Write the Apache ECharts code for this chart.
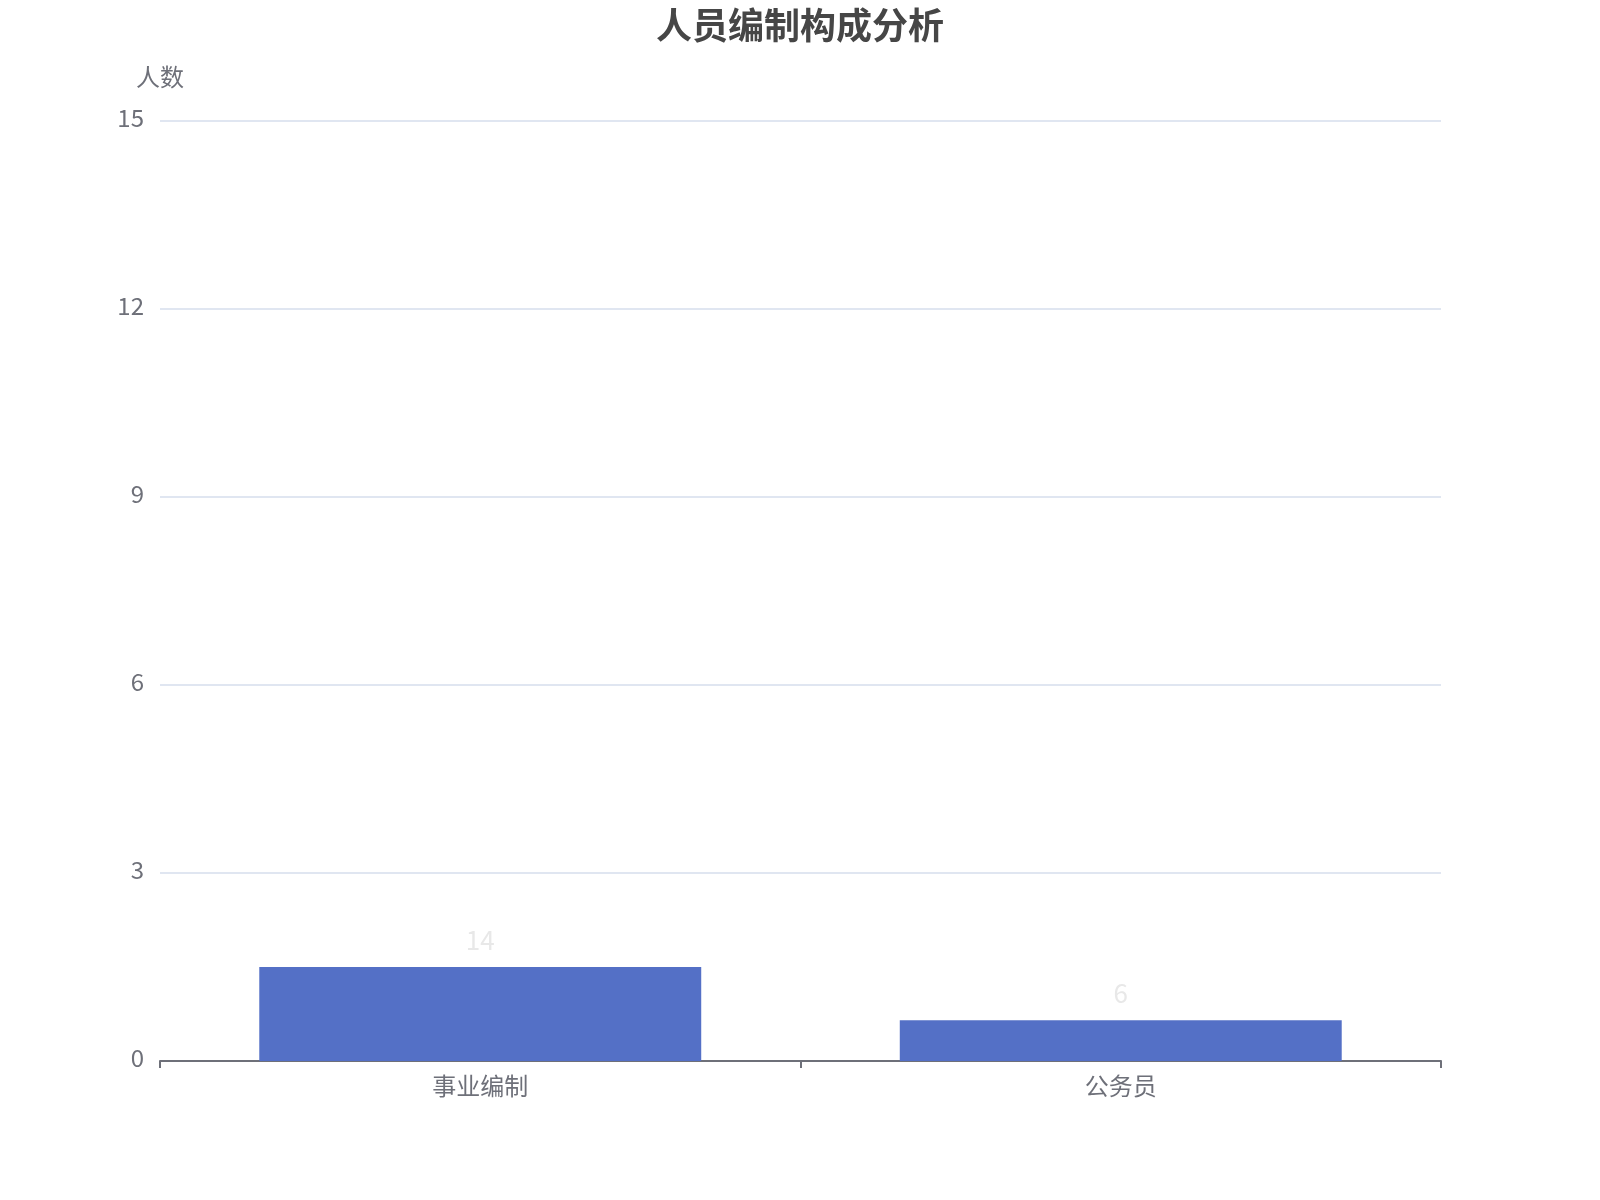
<!DOCTYPE html>
<html>
<head>
<meta charset="utf-8">
<script src="https://cdn.jsdelivr.net/npm/echarts@6/dist/echarts.min.js"></script>
<style>html,body{margin:0;padding:0;background:#fff}#c{width:1600px;height:1200px}</style>
</head>
<body>
<div id="c"></div>
<script>
var categories = ['事业编制', '公务员'];
var barValues = [1.5, 0.65];
var labelTexts = ['14', '6'];
var yTicks = { min: 0, max: 15, interval: 3 };

var chart = echarts.init(document.getElementById('c'));
var font = '"Noto Sans CJK SC","Noto Sans",sans-serif';
chart.setOption({
  backgroundColor: '#fff',
  textStyle: { fontFamily: font },
  title: {
    text: '人员编制构成分析',
    left: 'center',
    top: 2,
    textStyle: { fontSize: 36, fontWeight: 'bold', color: '#464646', fontFamily: font }
  },
  grid: { left: 160, right: 159, top: 121, bottom: 139, containLabel: false },
  xAxis: {
    type: 'category',
    data: categories,
    axisLine: { lineStyle: { color: '#6e7079', width: 2 } },
    axisTick: { show: true, length: 7, lineStyle: { color: '#6e7079', width: 2 } },
    axisLabel: { fontSize: 24, color: '#6e7079', margin: 13, fontFamily: font }
  },
  yAxis: {
    type: 'value',
    name: '人数',
    nameLocation: 'end',
    nameGap: 32,
    nameTextStyle: { fontSize: 24, color: '#6e7079', align: 'center', fontFamily: font },
    min: yTicks.min,
    max: yTicks.max,
    interval: yTicks.interval,
    axisLine: { show: false },
    axisTick: { show: false },
    axisLabel: { fontSize: 24, color: '#6e7079', margin: 16, fontFamily: font, verticalAlign: 'bottom', lineHeight: 6 },
    splitLine: { lineStyle: { color: '#e0e6f1', width: 2 } }
  },
  series: [{
    type: 'bar',
    data: barValues,
    barWidth: '69%',
    itemStyle: { color: '#5470c6' },
    label: {
      show: true,
      position: 'top',
      distance: 14,
      fontSize: 26,
      color: '#e8e8e8',
      fontFamily: font,
      formatter: function (p) { return labelTexts[p.dataIndex]; }
    }
  }]
});
</script>
</body>
</html>
